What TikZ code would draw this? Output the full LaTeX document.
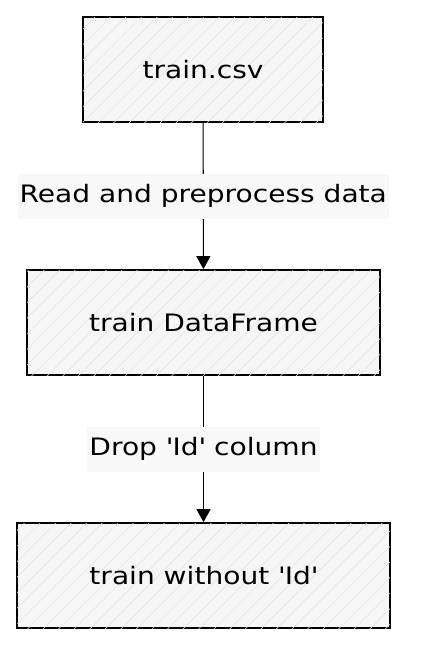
\documentclass[tikz,border=0pt]{standalone}
\usepackage{fontspec}
\setmainfont[FakeStretch=1.17]{DejaVu Sans}
\usepackage{tikz}
\usetikzlibrary{arrows.meta,patterns.meta}
\definecolor{boxgray}{HTML}{F6F6F6}
\definecolor{hatchgray}{HTML}{E2E2E2}
\definecolor{lblgray}{HTML}{F8F8F8}
\newcommand{\q}{\textquotesingle}

\tikzset{
	stage/.style={draw=black, line width=1.7pt, fill=boxgray,
		postaction={pattern={Lines[angle=45,distance=11pt,line width=0.5pt]}, pattern color=hatchgray},
		minimum height=105pt, inner sep=0pt, font=\fontsize{24}{28}\selectfont},
	lbl/.style={fill=lblgray, minimum height=45pt, inner xsep=2pt, font=\fontsize{24}{28}\selectfont},
	flow/.style={-{Triangle[length=13pt,width=14pt]}, line width=1.1pt, black}
}

\begin{document}
\begin{tikzpicture}[x=1pt,y=-1pt]
	\useasboundingbox (0,0) rectangle (424,672);
	\node[stage, minimum width=240pt] (csv) at (203,69.5) {train.csv};
	\node[stage, minimum width=353pt] (df) at (203.5,322.5) {train DataFrame};
	\node[stage, minimum width=373pt] (noid) at (203.5,575.5) {train without \q Id\q};
	%
	\draw[flow] (csv) -- node[lbl] (read) {Read and preprocess data} (df);
	\draw[flow] (df) -- node[lbl] (drop) {Drop \q Id\q{} column} (noid);
\end{tikzpicture}
\end{document}
